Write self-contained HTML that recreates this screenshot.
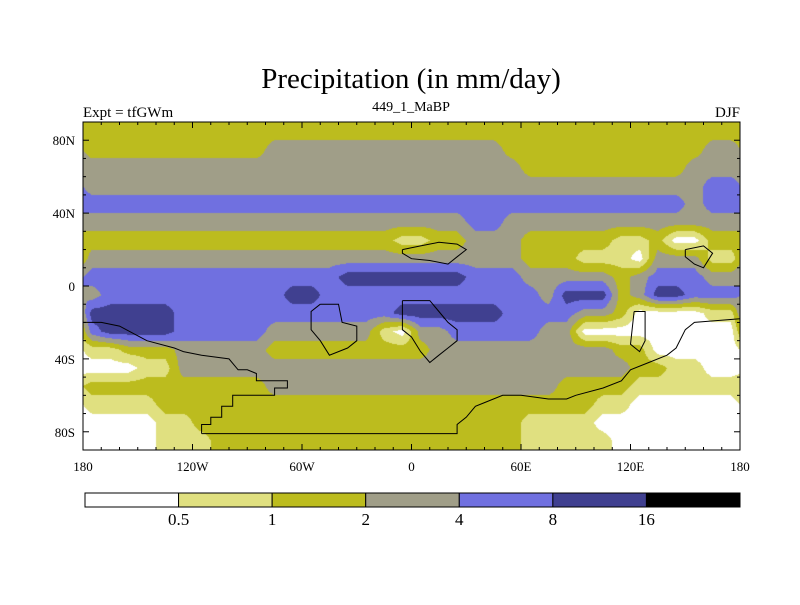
<!DOCTYPE html>
<html><head><meta charset="utf-8">
<style>
body{margin:0;background:#fff;width:800px;height:600px;overflow:hidden;font-family:"Liberation Serif",serif;}
</style></head>
<body>
<svg id="chart" width="800" height="600" xmlns="http://www.w3.org/2000/svg">
<text x="411" y="88" text-anchor="middle" font-size="29" font-family="Liberation Serif, serif">Precipitation (in mm/day)</text>
<text x="83" y="117" font-size="15" font-family="Liberation Serif, serif">Expt = tfGWm</text>
<text x="411" y="111" text-anchor="middle" font-size="14" font-family="Liberation Serif, serif">449_1_MaBP</text>
<text x="740" y="117" text-anchor="end" font-size="15" font-family="Liberation Serif, serif">DJF</text>
<foreignObject x="83" y="122" width="657" height="328"><canvas id="cv" width="657" height="328" xmlns="http://www.w3.org/1999/xhtml"></canvas></foreignObject>
<g id="outlines" fill="none" stroke="#000" stroke-width="1"></g>
<rect x="83" y="122" width="657" height="328" fill="none" stroke="#000" stroke-width="1"/>
<g id="ticks"></g>
<g id="cbar"></g>
</svg>
<script>
var levelLabels=["0.5","1","2","4","8","16"];
var colors=["#ffffff","#e0e080","#bcbc1e","#a09e88","#7070e0","#404090","#000000"];
var lonTicks=[-180,-120,-60,0,60,120,180];
var lonTickLabels=["180","120W","60W","0","60E","120E","180"];
var latTicks=[80,40,0,-40,-80];
var latTickLabels=["80N","40N","0","40S","80S"];
var latCenters=[85,75,65,55,45,35,25,15,5,-5,-15,-25,-35,-45,-55,-65,-75,-85];
var grid=[
"222222222222222222222222222222222222",
"222222222233333333333332222222222233",
"333333333333333333333333222222222333",
"333333333333333333333333333333333344",
"444444444444444444444444444444444344",
"333333333333333333333443333333333333",
"222222222222222221122333222221120022",
"333333333333333333333333222111033311",
"444444444444445555555444333332344433",
"344444444445544444444444435552355444",
"555554444444444445555554444332000011",
"455554444433333310334444433000000000",
"112223333322222222233333333332200000",
"000113333333333333333333333333221100",
"222222222233333333333333332222111111",
"111122222222222222222222222211000000",
"000011222222222222222222111100000000",
"000011122222222222222222111110000000"];
var X0=83,Y0=122,W=657,H=328;
function xScale(lon){return X0+(lon+180)/360*W;}
function yScale(lat){return Y0+(90-lat)/180*H;}
var NS="http://www.w3.org/2000/svg";
function mk(tag,attrs,parent){var e=document.createElementNS(NS,tag);for(var k in attrs)e.setAttribute(k,attrs[k]);parent.appendChild(e);return e;}
// field
(function(){
var cv=document.getElementById('cv'),ctx=cv.getContext('2d');
var img=ctx.createImageData(W,H);
var rows=grid.length,cols=grid[0].length;
function val(r,c){r=Math.max(0,Math.min(rows-1,r));c=((c%cols)+cols)%cols;return +grid[r][c];}
var rgb=colors.map(function(h){return [parseInt(h.substr(1,2),16),parseInt(h.substr(3,2),16),parseInt(h.substr(5,2),16)];});
for(var py=0;py<H;py++){
 var lat=90-(py+0.5)/H*180;
 var fr=(latCenters[0]-lat)/10;
 var r0=Math.floor(fr),tr=fr-r0;
 for(var px=0;px<W;px++){
  var lon=-180+(px+0.5)/W*360;
  var fc=(lon+175)/10;var c0=Math.floor(fc),tc=fc-c0;
  var v=(1-tr)*((1-tc)*val(r0,c0)+tc*val(r0,c0+1))+tr*((1-tc)*val(r0+1,c0)+tc*val(r0+1,c0+1));
  var k=Math.max(0,Math.min(6,Math.round(v)));
  var i=(py*W+px)*4;img.data[i]=rgb[k][0];img.data[i+1]=rgb[k][1];img.data[i+2]=rgb[k][2];img.data[i+3]=255;
 }}
ctx.putImageData(img,0,0);
})();
// outlines (approximate coastlines)
var antarctica=[[-115,-81],[-115,-76],[-110,-76],[-110,-72],[-104,-72],[-104,-66],[-98,-66],[-98,-60],[-75,-60],[-75,-56],[-68,-56],[-68,-52],[-75,-52],[-85,-52],[-85,-48],[-90,-46],[-95,-46],[-100,-40],[-115,-38],[-125,-36],[-130,-34],[-145,-30],[-160,-22],[-170,-20],[-180,-20]];
var ant2=[[-115,-81],[25,-81],[25,-76],[30,-72],[35,-66],[40,-64],[50,-60],[60,-60],[75,-62],[85,-62],[90,-60],[105,-56],[115,-52],[120,-46],[130,-42],[140,-38],[145,-34],[150,-24],[155,-20],[180,-18]];
var africa=[[-5,-8],[10,-8],[15,-14],[20,-20],[25,-24],[25,-30],[20,-34],[15,-38],[10,-42],[5,-36],[0,-28],[-5,-24],[-5,-8]];
var samer=[[-50,-10],[-40,-10],[-38,-20],[-30,-22],[-30,-30],[-35,-34],[-45,-38],[-50,-30],[-55,-24],[-55,-14],[-50,-10]];
var namer=[[-5,20],[5,22],[15,24],[25,23],[30,20],[25,16],[20,12],[10,14],[0,15],[-5,18],[-5,20]];
var asia=[[122,-14],[128,-14],[128,-30],[125,-36],[120,-32],[122,-14]];
var aus=[[150,20],[160,22],[165,18],[160,10],[155,12],[150,16],[150,20]];
[antarctica,ant2,africa,samer,namer,asia,aus].forEach(function(p,i){
 var d=p.map(function(q,j){return (j?'L':'M')+xScale(q[0]).toFixed(1)+' '+yScale(q[1]).toFixed(1);}).join('');
 var e=mk('path',{d:d},document.getElementById('outlines'));
 
 
});
// ticks
var tg=document.getElementById('ticks');
for(var lon=-180;lon<=180;lon+=10){
 var x=xScale(lon),len=(lon%60===0)?6:3;
 mk('line',{x1:x,y1:Y0,x2:x,y2:Y0+len,stroke:'#000'},tg);
 mk('line',{x1:x,y1:Y0+H,x2:x,y2:Y0+H-len,stroke:'#000'},tg);
}
for(var lat=-90;lat<=90;lat+=10){
 var y=yScale(lat),len2=(lat%40===0)?6:3;
 mk('line',{x1:X0,y1:y,x2:X0+len2,y2:y,stroke:'#000'},tg);
 mk('line',{x1:X0+W,y1:y,x2:X0+W-len2,y2:y,stroke:'#000'},tg);
}
lonTicks.forEach(function(l,i){
 var t=mk('text',{x:xScale(l),y:471,'text-anchor':'middle','font-size':13,'font-family':'Liberation Serif, serif'},tg);
 t.textContent=lonTickLabels[i];
 
 
});
latTicks.forEach(function(l,i){
 var t=mk('text',{x:75,y:yScale(l)+5,'text-anchor':'end','font-size':13,'font-family':'Liberation Serif, serif'},tg);
 t.textContent=latTickLabels[i];
 
 
});
// colorbar
var cb=document.getElementById('cbar');
var bw=(740-85)/colors.length;
colors.forEach(function(c,i){
 var r=mk('rect',{x:85+i*bw,y:493,width:bw,height:14,fill:c,stroke:'#000','stroke-width':1},cb);
 
 
});
levelLabels.forEach(function(s,i){
 var t=mk('text',{x:85+(i+1)*bw,y:525,'text-anchor':'middle','font-size':17,'font-family':'Liberation Serif, serif'},cb);
 t.textContent=s;
 
 
});
</script>
</body></html>
